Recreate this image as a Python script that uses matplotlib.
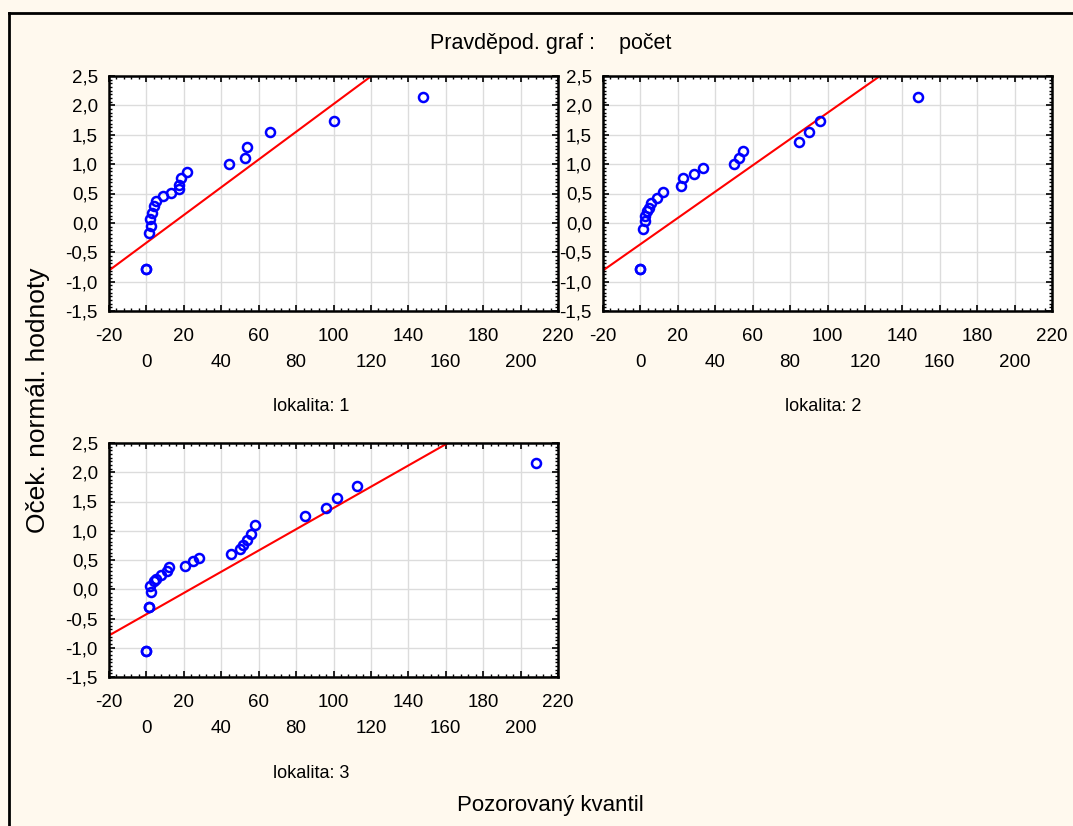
import numpy as np
import matplotlib
matplotlib.use('Agg')
from matplotlib import pyplot as plt
from matplotlib.lines import Line2D
from matplotlib.ticker import MultipleLocator

plt.rcParams['font.family'] = ['Liberation Sans', 'DejaVu Sans']

# lokalita 1
x1 = [0, 0, 1.4, 1.9, 2.5, 3.2, 4.1, 5.1, 8.9, 13.2, 17.4, 17.4, 18.3, 21.9,
      44.4, 52.8, 53.8, 65.8, 100.2, 148]
y1 = [-0.78, -0.78, -0.17, 0.065, -0.05, 0.17, 0.28, 0.38, 0.46, 0.51, 0.58, 0.65,
      0.76, 0.86, 1.0, 1.10, 1.30, 1.54, 1.74, 2.15]
# lokalita 2
x2 = [0, 0, 1.4, 2.7, 2.7, 3.5, 4.5, 5.4, 9.1, 12.1, 21.8, 23.0, 28.4, 33.7,
      49.8, 52.8, 55.1, 84.9, 90.3, 95.8, 148.5]
y2 = [-0.78, -0.78, -0.10, 0.04, 0.11, 0.20, 0.26, 0.34, 0.42, 0.52, 0.62, 0.76,
      0.83, 0.93, 1.0, 1.10, 1.23, 1.37, 1.54, 1.74, 2.15]
# lokalita 3
x3 = [0, 0, 1.4, 1.4, 2.5, 2.1, 4.2, 5.3, 7.6, 11.2, 11.9, 20.6, 25.1, 28.3,
      45.4, 49.9, 51.7, 53.8, 56.0, 58.3, 85.0, 95.8, 102.0, 112.8, 208.1]
y3 = [-1.05, -1.05, -0.30, -0.30, -0.05, 0.06, 0.14, 0.17, 0.24, 0.31, 0.38, 0.40,
      0.48, 0.54, 0.61, 0.68, 0.76, 0.84, 0.95, 1.09, 1.25, 1.39, 1.56, 1.77, 2.16]

# fitted normal lines: intercept, slope
fit1 = (-0.338, 0.0236)
fit2 = (-0.363, 0.02236)
fit3 = (-0.427, 0.01816)

xticks = np.arange(-20, 221, 20)
yticks = np.arange(-1.5, 2.51, 0.5)

W, H = 1073, 826
fig = plt.figure(figsize=(W / 100, H / 100), dpi=100)
fig.patch.set_facecolor('#FFF9EE')

def px(l, t, r, b):
    return [l / W, 1 - b / H, (r - l) / W, (b - t) / H]

panels = [
    (px(109, 76, 558, 311), x1, y1, fit1, 'lokalita: 1', 311, 407),
    (px(603, 76, 1052, 311), x2, y2, fit2, 'lokalita: 2', 823, 407),
    (px(109, 443, 558, 677), x3, y3, fit3, 'lokalita: 3', 311, 773),
]

for rect, xs, ys, fit, name, tx, ty in panels:
    ax = fig.add_axes(rect)
    ax.set_facecolor('white')
    ax.set_xlim(-20, 220)
    ax.set_ylim(-1.5, 2.5)
    ax.set_xticks(xticks)
    ax.set_xticklabels([('%d' % v) if i % 2 == 0 else '\n%d' % v
                        for i, v in enumerate(xticks)])
    ax.set_yticks(yticks)
    ax.set_yticklabels([('%.1f' % v).replace('.', ',') for v in yticks])
    ax.xaxis.set_minor_locator(MultipleLocator(4))
    ax.yaxis.set_minor_locator(MultipleLocator(0.0625))
    ax.grid(True, color='#DCDCDC', lw=1)
    ax.set_axisbelow(True)
    ax.tick_params(which='major', direction='in', length=4, width=1.2,
                   top=True, right=True, labelsize=13.5, pad=8)
    ax.tick_params(axis='x', which='major', pad=12)
    ax.tick_params(which='minor', direction='in', length=2, width=1,
                   top=True, right=True)
    for lab in ax.get_xticklabels():
        lab.set_linespacing(1.68)
        lab.set_verticalalignment('top')
    for s in ax.spines.values():
        s.set_linewidth(1.8)
    xl = np.array([-20, 220])
    ax.plot(xl, fit[0] + fit[1] * xl, color='#FF0000', lw=1.5, zorder=2)
    ax.plot(xs, ys, 'o', mfc='none', mec='#0000FF', ms=6.5, mew=1.8, zorder=3)
    fig.text(tx / W, 1 - ty / H, name, ha='center', va='center', fontsize=13)

fig.text(551 / W, 1 - 43 / H, 'Pravděpod. graf :    počet', ha='center',
         va='center', fontsize=15.5)
fig.text(38 / W, 1 - 400 / H, 'Oček. normál. hodnoty', rotation=90,
         ha='center', va='center', fontsize=19)
fig.text(550 / W, 1 - 806 / H, 'Pozorovaný kvantil', ha='center',
         va='center', fontsize=16)

# outer frame (top and left edges)
fig.add_artist(Line2D([9 / W, 1], [1 - 13 / H, 1 - 13 / H], color='black', lw=2,
                      transform=fig.transFigure))
fig.add_artist(Line2D([9 / W, 9 / W], [1 - 13 / H, 0], color='black', lw=2,
                      transform=fig.transFigure))

fig.savefig('out.png', dpi=100, facecolor=fig.get_facecolor())
